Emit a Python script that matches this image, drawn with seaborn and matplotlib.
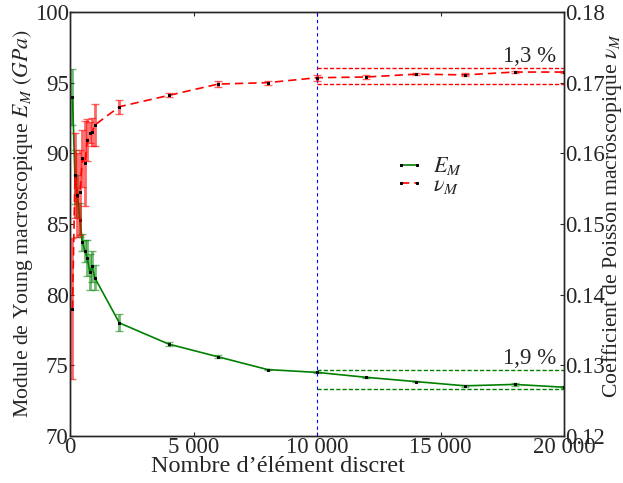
import numpy as np
import pandas as pd
import matplotlib
matplotlib.use("Agg")
import matplotlib.pyplot as plt
import seaborn as sns
from matplotlib.ticker import FuncFormatter

# Data
n_elements = [100, 200, 300, 400, 500, 600, 700, 800, 900, 1000,
              2000, 4000, 6000, 8000, 10000, 12000, 14000, 16000, 18000, 20000]
young = [94.0, 88.3, 87.0, 85.3, 83.7, 83.1, 82.6, 81.6, 82.0, 81.2,
         78.0, 76.5, 75.6, 74.7, 74.5, 74.15, 73.85, 73.55, 73.65, 73.45]
young_err = [2.0, 1.9, 1.5, 1.2, 0.6, 0.8, 1.3, 1.3, 1.1, 0.9,
             0.6, 0.15, 0.1, 0.05, 0.05, 0.05, 0.05, 0.08, 0.08, 0.08]
poisson = [0.138, 0.1569, 0.1541, 0.1545, 0.1593, 0.1586, 0.1619, 0.1629, 0.1630, 0.1640,
           0.1666, 0.1682, 0.1698, 0.1700, 0.1707, 0.1708, 0.1712, 0.1711, 0.1715, 0.1715]
poisson_err = [0.010, 0.006, 0.006, 0.006, 0.004, 0.006, 0.003, 0.0015, 0.002, 0.003,
               0.001, 0.0003, 0.0004, 0.0003, 0.0004, 0.0003, 0.0001, 0.0002, 0.0001, 0.0001]

young_band = [74.7, 73.3]
poisson_band = [0.1721, 0.1698]
band_start, band_end = 10000, 20000
young_band_label = "1,9 %"
poisson_band_label = "1,3 %"

df = pd.DataFrame({"n": n_elements, "E": young, "nu": poisson})

sns.set_style("ticks")
plt.rcParams["font.family"] = ["Liberation Serif", "DejaVu Serif"]
plt.rcParams["mathtext.fontset"] = "stix"
plt.rcParams["font.size"] = 16.5
plt.rcParams["xtick.direction"] = "in"
plt.rcParams["ytick.direction"] = "in"

fig = plt.figure(figsize=(6.23, 4.83), dpi=100)
ax = fig.add_axes([0.1124, 0.0973, 0.7929, 0.8779])
ax2 = ax.twinx()

# Young modulus (left axis)
ax.errorbar(df["n"], df["E"], yerr=young_err, fmt="none", ecolor="green",
            elinewidth=2.0, alpha=0.55, capsize=3, capthick=1)
sns.lineplot(data=df, x="n", y="E", ax=ax, color="green", lw=1.2,
             marker="s", markersize=1.6, markerfacecolor="black",
             markeredgecolor="black", label="$E_M$", legend=False)

# Poisson ratio (right axis)
ax2.errorbar(df["n"], df["nu"], yerr=poisson_err, fmt="none", ecolor="red",
             elinewidth=2.0, alpha=0.6, capsize=3, capthick=1)
sns.lineplot(data=df, x="n", y="nu", ax=ax2, color="red", lw=1.2,
             linestyle=(0, (5, 3)), marker="s", markersize=1.6,
             markerfacecolor="black", markeredgecolor="black",
             label=r"$\nu_M$", legend=False)

# convergence bands
for v in young_band:
    ax.hlines(v, band_start, band_end, colors="green", linestyles=(0, (3, 1.5)), lw=1)
for v in poisson_band:
    ax2.hlines(v, band_start, band_end, colors="red", linestyles=(0, (3, 1.5)), lw=1)
ax.axvline(band_start, color="blue", linestyle=(0, (3, 3)), lw=0.8)

ax.text(19700, young_band[0] + 0.05, young_band_label, ha="right", va="bottom")
ax2.text(19700, poisson_band[0] + 0.0001, poisson_band_label, ha="right", va="bottom")

ax.set_xlim(0, 20000)
ax.set_ylim(70, 100)
ax2.set_ylim(0.12, 0.18)
ax.set_xticks([0, 5000, 10000, 15000, 20000])
ax.xaxis.set_major_formatter(FuncFormatter(lambda v, p: f"{int(v):,}".replace(",", " ")))
ax.set_yticks([70, 75, 80, 85, 90, 95, 100])
ax2.set_yticks([0.12, 0.13, 0.14, 0.15, 0.16, 0.17, 0.18])
ax.tick_params(top=True, length=3, pad=1)
ax2.tick_params(length=3, pad=1)

ax.set_xlabel("Nombre d’élément discret", fontsize=17.5)
ax.xaxis.set_label_coords(0.421, -0.047)
ax.set_ylabel("Module de Young macroscopique $E_M$ $(GPa)$", fontsize=15.7, labelpad=0)
ax2.set_ylabel(r"Coefficient de Poisson macroscopique $\nu_M$", fontsize=15.7)
ax2.yaxis.set_label_coords(1.072, 0.52)

h1, l1 = ax.get_legend_handles_labels()
h2, l2 = ax2.get_legend_handles_labels()
ax2.legend(h1 + h2, l1 + l2, loc="upper left", bbox_to_anchor=(0.635, 0.688),
           frameon=False, handlelength=1.3, numpoints=2, borderpad=0,
           labelspacing=-0.1, handletextpad=0.4, fontsize=16)

for a in (ax, ax2):
    for s in a.spines.values():
        s.set_linewidth(1)

fig.savefig("out.png", dpi=100)
